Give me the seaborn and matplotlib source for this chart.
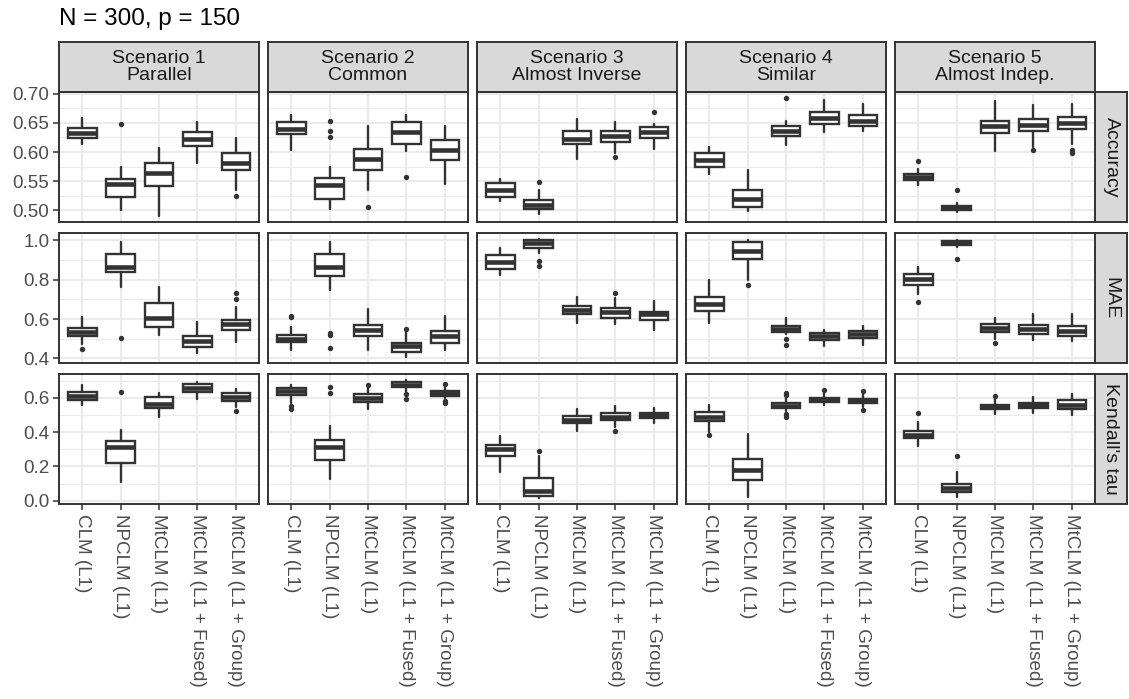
import numpy as np
import pandas as pd
import matplotlib
matplotlib.use("Agg")
import matplotlib.pyplot as plt
import seaborn as sns

# ---------------- data ----------------
title = "N = 300, p = 150"
methods = ["CLM (L1)", "NPCLM (L1)", "MtCLM (L1)", "MtCLM (L1 + Fused)", "MtCLM (L1 + Group)"]
scenarios = ["Scenario 1\nParallel", "Scenario 2\nCommon", "Scenario 3\nAlmost Inverse",
             "Scenario 4\nSimilar", "Scenario 5\nAlmost Indep."]
metrics = ["Accuracy", "MAE", "Kendall's tau"]

# each entry: [lower whisker, Q1, median, Q3, upper whisker] per method
acc_s1 = [[0.613, 0.624, 0.633, 0.641, 0.658],
          [0.501, 0.522, 0.545, 0.553, 0.574],
          [0.490, 0.542, 0.564, 0.581, 0.607],
          [0.581, 0.610, 0.622, 0.634, 0.652],
          [0.535, 0.570, 0.581, 0.598, 0.624]]
acc_s1_out = [[], [0.648], [], [], [0.524]]
acc_s2 = [[0.604, 0.631, 0.640, 0.651, 0.663],
          [0.502, 0.519, 0.543, 0.555, 0.575],
          [0.535, 0.570, 0.588, 0.605, 0.645],
          [0.601, 0.614, 0.634, 0.652, 0.663],
          [0.545, 0.586, 0.603, 0.621, 0.644]]
acc_s2_out = [[], [0.653, 0.636, 0.625], [0.506], [0.557], []]
acc_s3 = [[0.516, 0.523, 0.535, 0.546, 0.554],
          [0.494, 0.502, 0.509, 0.517, 0.534],
          [0.588, 0.613, 0.623, 0.637, 0.657],
          [0.599, 0.618, 0.627, 0.636, 0.652],
          [0.605, 0.624, 0.634, 0.643, 0.649]]
acc_s3_out = [[], [0.549], [], [0.591], [0.669]]
acc_s4 = [[0.563, 0.575, 0.587, 0.598, 0.609],
          [0.498, 0.505, 0.519, 0.534, 0.569],
          [0.612, 0.627, 0.637, 0.645, 0.654],
          [0.634, 0.648, 0.658, 0.668, 0.690],
          [0.636, 0.644, 0.653, 0.663, 0.683]]
acc_s4_out = [[], [], [0.693], [], []]
acc_s5 = [[0.543, 0.552, 0.557, 0.563, 0.571],
          [0.497, 0.501, 0.505, 0.508, 0.513],
          [0.601, 0.632, 0.645, 0.654, 0.687],
          [0.608, 0.637, 0.647, 0.657, 0.680],
          [0.614, 0.640, 0.650, 0.661, 0.682]]
acc_s5_out = [[0.585], [0.534], [], [0.603], [0.604, 0.599]]

mae_s1 = [[0.475, 0.513, 0.535, 0.557, 0.609],
          [0.761, 0.838, 0.865, 0.933, 0.991],
          [0.518, 0.561, 0.607, 0.681, 0.761],
          [0.427, 0.456, 0.490, 0.514, 0.586],
          [0.484, 0.544, 0.573, 0.598, 0.663]]
mae_s1_out = [[0.450], [0.503], [], [], [0.732, 0.704]]
mae_s2 = [[0.441, 0.484, 0.500, 0.518, 0.561],
          [0.747, 0.819, 0.866, 0.933, 0.991],
          [0.441, 0.514, 0.544, 0.569, 0.650],
          [0.407, 0.432, 0.462, 0.479, 0.538],
          [0.441, 0.480, 0.513, 0.538, 0.615]]
mae_s2_out = [[0.617, 0.610], [0.530, 0.518, 0.451], [], [0.552], []]
mae_s3 = [[0.822, 0.855, 0.893, 0.925, 0.962],
          [0.937, 0.962, 0.985, 1.000, 1.008],
          [0.578, 0.624, 0.646, 0.667, 0.714],
          [0.573, 0.607, 0.635, 0.658, 0.709],
          [0.547, 0.595, 0.625, 0.638, 0.692]]
mae_s3_out = [[], [0.898, 0.870], [], [0.732], []]
mae_s4 = [[0.581, 0.643, 0.675, 0.714, 0.800],
          [0.800, 0.906, 0.948, 0.991, 1.000],
          [0.522, 0.535, 0.552, 0.566, 0.604],
          [0.463, 0.496, 0.513, 0.528, 0.544],
          [0.467, 0.504, 0.523, 0.538, 0.564]]
mae_s4_out = [[], [0.774], [0.497, 0.467], [], []]
mae_s5 = [[0.727, 0.774, 0.805, 0.832, 0.863],
          [0.968, 0.978, 0.988, 0.998, 1.003],
          [0.501, 0.535, 0.555, 0.573, 0.607],
          [0.492, 0.522, 0.548, 0.569, 0.624],
          [0.487, 0.514, 0.538, 0.566, 0.626]]
mae_s5_out = [[0.686], [0.905], [0.478], [], []]

tau_s1 = [[0.557, 0.586, 0.613, 0.635, 0.674],
          [0.108, 0.219, 0.310, 0.346, 0.414],
          [0.485, 0.541, 0.565, 0.602, 0.625],
          [0.592, 0.635, 0.658, 0.678, 0.694],
          [0.547, 0.582, 0.604, 0.625, 0.649]]
tau_s1_out = [[], [0.631], [], [], [0.522]]
tau_s2 = [[0.571, 0.616, 0.637, 0.659, 0.674],
          [0.127, 0.235, 0.315, 0.356, 0.434],
          [0.532, 0.577, 0.600, 0.620, 0.655],
          [0.635, 0.661, 0.677, 0.692, 0.704],
          [0.596, 0.612, 0.628, 0.641, 0.664]]
tau_s2_out = [[0.553, 0.534], [0.664, 0.629], [0.674], [0.622, 0.594], [0.678, 0.580, 0.567]]
tau_s3 = [[0.170, 0.258, 0.300, 0.326, 0.375],
          [0.015, 0.025, 0.055, 0.131, 0.258],
          [0.407, 0.453, 0.473, 0.493, 0.532],
          [0.430, 0.470, 0.490, 0.510, 0.550],
          [0.450, 0.480, 0.497, 0.510, 0.540]]
tau_s3_out = [[], [0.287], [], [0.405], []]
tau_s4 = [[0.400, 0.465, 0.490, 0.515, 0.560],
          [0.020, 0.120, 0.180, 0.240, 0.390],
          [0.520, 0.540, 0.553, 0.567, 0.600],
          [0.555, 0.578, 0.588, 0.598, 0.625],
          [0.545, 0.570, 0.582, 0.595, 0.620]]
tau_s4_out = [[0.380], [], [0.615, 0.625, 0.505, 0.490], [0.645], [0.638, 0.530]]
tau_s5 = [[0.320, 0.365, 0.385, 0.405, 0.460],
          [0.020, 0.050, 0.075, 0.100, 0.170],
          [0.505, 0.532, 0.545, 0.557, 0.590],
          [0.510, 0.540, 0.555, 0.568, 0.605],
          [0.500, 0.535, 0.560, 0.585, 0.620]]
tau_s5_out = [[0.510], [0.260], [0.610], [], []]

acc_ticks = [0.50, 0.55, 0.60, 0.65, 0.70]
mae_ticks = [0.4, 0.6, 0.8, 1.0]
tau_ticks = [0.0, 0.2, 0.4, 0.6]
acc_ticklabels = ["0.50", "0.55", "0.60", "0.65", "0.70"]
mae_ticklabels = ["0.4", "0.6", "0.8", "1.0"]
tau_ticklabels = ["0.0", "0.2", "0.4", "0.6"]

# ---------------- assemble ----------------
box_data = [[acc_s1, acc_s2, acc_s3, acc_s4, acc_s5],
            [mae_s1, mae_s2, mae_s3, mae_s4, mae_s5],
            [tau_s1, tau_s2, tau_s3, tau_s4, tau_s5]]
out_data = [[acc_s1_out, acc_s2_out, acc_s3_out, acc_s4_out, acc_s5_out],
            [mae_s1_out, mae_s2_out, mae_s3_out, mae_s4_out, mae_s5_out],
            [tau_s1_out, tau_s2_out, tau_s3_out, tau_s4_out, tau_s5_out]]
row_ticks = [acc_ticks, mae_ticks, tau_ticks]
row_ticklabels = [acc_ticklabels, mae_ticklabels, tau_ticklabels]

sns.set_theme(style="whitegrid")
plt.rcParams["font.family"] = ["Liberation Sans", "DejaVu Sans"]

W, H = 1129, 699
fig = plt.figure(figsize=(W / 100, H / 100), dpi=100)
fig.patch.set_facecolor("white")

col_left = [59, 268, 477, 686, 895]
panel_w = 200
row_top = [92, 233, 374]
panel_h = 130
strip_top = 42
strip_right_w = 32

DARK = "#333333"
GRID = "#EBEBEB"
STRIPFILL = "#D9D9D9"


def fig_rect(x, y, w, h):
    return [x / W, 1 - (y + h) / H, w / W, h / H]


fig.text(col_left[0] / W, 1 - 19 / H, title, fontsize=17.5, ha="left", va="center", color="black")

for r in range(3):
    # shared y range per row (free_y scales with 5% expansion)
    vals = []
    for c in range(5):
        for s in box_data[r][c]:
            vals.extend(s)
        for o in out_data[r][c]:
            vals.extend(o)
    lo, hi = min(vals), max(vals)
    pad = 0.05 * (hi - lo)
    ylo, yhi = lo - pad, hi + pad
    ticks = row_ticks[r]
    step = ticks[1] - ticks[0]
    minors = [t + step / 2 for t in [ticks[0] - step] + ticks]
    minors = [m for m in minors if ylo <= m <= yhi]

    for c in range(5):
        ax = fig.add_axes(fig_rect(col_left[c], row_top[r], panel_w, panel_h))
        ax.set_facecolor("white")
        ax.grid(False)
        for t in ticks:
            ax.axhline(t, color=GRID, lw=1.5, zorder=0)
        for m in minors:
            ax.axhline(m, color=GRID, lw=0.8, zorder=0)
        for x in range(5):
            ax.axvline(x, color=GRID, lw=1.5, zorder=0)

        stats = []
        for i, s in enumerate(box_data[r][c]):
            stats.append(dict(whislo=s[0], q1=s[1], med=s[2], q3=s[3], whishi=s[4],
                              fliers=[], label=methods[i]))
        ax.bxp(stats, positions=np.arange(5), widths=0.75, patch_artist=True,
               showcaps=False, showfliers=False,
               boxprops=dict(facecolor="white", edgecolor=DARK, linewidth=1.7),
               medianprops=dict(color=DARK, linewidth=3.3, solid_capstyle="butt"),
               whiskerprops=dict(color=DARK, linewidth=1.7))

        fx, fy = [], []
        for i, o in enumerate(out_data[r][c]):
            for v in o:
                fx.append(i)
                fy.append(v)
        if fx:
            df = pd.DataFrame({"x": fx, "y": fy})
            sns.scatterplot(data=df, x="x", y="y", ax=ax, color=DARK, s=15,
                            linewidth=0, zorder=4, legend=False)
        ax.set_xlabel("")
        ax.set_ylabel("")
        ax.set_xlim(-0.6, 4.6)
        ax.set_ylim(ylo, yhi)
        ax.set_xticks(range(5))
        ax.set_yticks(ticks)
        ax.set_yticks(minors, minor=True)

        for sp in ax.spines.values():
            sp.set_visible(True)
            sp.set_color(DARK)
            sp.set_linewidth(1.4)
            sp.set_zorder(5)

        ax.tick_params(axis="both", which="major", length=4, width=1.1, color=DARK,
                       labelsize=13.6, labelcolor="#4D4D4D", pad=3)
        ax.tick_params(axis="y", which="minor", length=0)
        ax.tick_params(axis="y", left=(c == 0), labelleft=(c == 0))
        ax.tick_params(axis="x", bottom=(r == 2), labelbottom=(r == 2))
        if c == 0:
            ax.set_yticklabels(row_ticklabels[r])
        if r == 2:
            ax.set_xticklabels(methods, rotation=270, ha="center", va="top")

        # top strips
        if r == 0:
            sax = fig.add_axes(fig_rect(col_left[c], strip_top, panel_w, row_top[0] - strip_top))
            sax.set_facecolor(STRIPFILL)
            sax.set_xticks([])
            sax.set_yticks([])
            sax.grid(False)
            for sp in sax.spines.values():
                sp.set_visible(True)
                sp.set_color(DARK)
                sp.set_linewidth(1.4)
            sax.text(0.5, 0.5, scenarios[c], ha="center", va="center", fontsize=14,
                     color="#1A1A1A", linespacing=1.0, transform=sax.transAxes)
        # right strips
        if c == 4:
            rax = fig.add_axes(fig_rect(col_left[4] + panel_w, row_top[r], strip_right_w, panel_h))
            rax.set_facecolor(STRIPFILL)
            rax.set_xticks([])
            rax.set_yticks([])
            rax.grid(False)
            for sp in rax.spines.values():
                sp.set_visible(True)
                sp.set_color(DARK)
                sp.set_linewidth(1.4)
            rax.text(0.5, 0.5, metrics[r], ha="center", va="center", fontsize=14,
                     color="#1A1A1A", rotation=270, transform=rax.transAxes)

fig.savefig("out.png", dpi=100, facecolor="white")
